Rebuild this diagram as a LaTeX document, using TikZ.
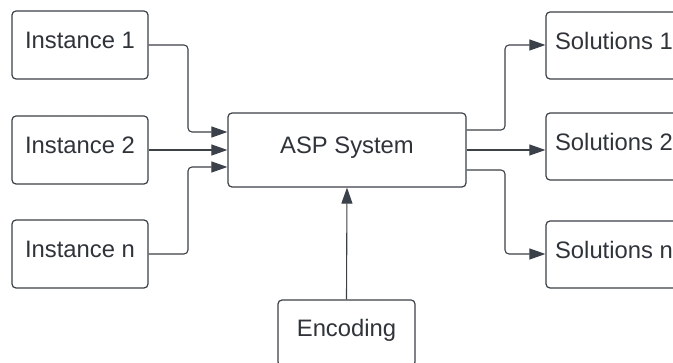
\documentclass[tikz,border=0pt]{standalone}
\usepackage{fontspec}
\setmainfont{Liberation Sans}
\usetikzlibrary{arrows.meta}
\definecolor{ink}{HTML}{3A414A}
\definecolor{txt}{HTML}{2F343B}
\begin{document}
\begin{tikzpicture}[x=1pt,y=-1pt,
  box/.style={draw=ink,line width=1.2pt,rounded corners=4pt,fill=white,
    minimum width=136pt,minimum height=68pt,inner sep=0pt,
    font=\fontsize{23.8}{26}\selectfont,text=txt,
    text height=0.75em,text depth=0em},
  link/.style={draw=ink,line width=1.1pt,rounded corners=4pt,
    -{Triangle[length=16pt,width=11pt]}}]
\useasboundingbox (0,0) rectangle (673,363);
\clip (0,0) rectangle (673,363);
\node[box] (i1) at (80,45) {Instance 1};
\node[box] (i2) at (80,150) {Instance 2};
\node[box] (in) at (80,254) {Instance n};
\node[box,minimum width=238pt,minimum height=74pt] (asp) at (347,150) {ASP System};
\node[box,minimum height=67pt] (s1) at (614,45.5) {Solutions 1};
\node[box,minimum height=67pt] (s2) at (614,146.5) {Solutions 2};
\node[box,minimum height=67pt] (sn) at (614,254.5) {Solutions n};
\node[box,minimum width=137pt,minimum height=66pt] (enc) at (346.5,333) {Encoding};
\draw[link] (i1.east) -| (188,132) -- (asp.west |- 0,132);
\draw[link] (i2.east) -- (asp.west);
\draw[link] (in.east) -| (188,167) -- (asp.west |- 0,167);
\draw[link] (asp.east |- 0,130) -| (505,45) -- (s1.west |- 0,45);
\draw[link] (asp.east) -- (s2.west |- asp.east);
\draw[link] (asp.east |- 0,170) -| (505,254) -- (sn.west |- 0,254);
\draw[link] (enc.north) -- (asp.south);
\end{tikzpicture}
\end{document}
